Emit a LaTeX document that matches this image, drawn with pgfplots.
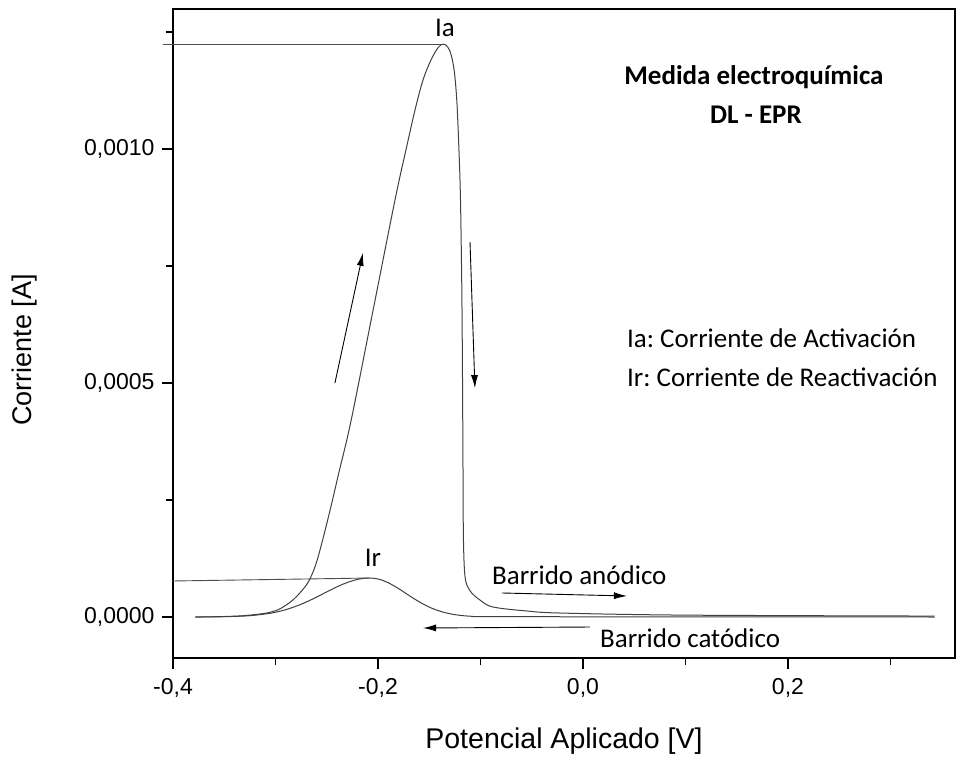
\documentclass[border=0pt]{standalone}
\usepackage{fontspec}
\setmainfont{Liberation Sans}
\newfontfamily\calfont{Carlito}
\usepackage{pgfplots}
\pgfplotsset{compat=1.18}
\usetikzlibrary{arrows.meta}
\begin{document}
\frenchspacing
\begin{tikzpicture}
\begin{axis}[
  scale only axis, width=782pt, height=649pt,
  xmin=-0.4, xmax=0.363, ymin=-0.0000876, ymax=0.001299,
  axis line style={line width=1.6pt},
  tick align=outside, tick pos=left,
  major tick length=11pt, minor tick length=7pt,
  tick style={black, line width=1.4pt},
  xtick={-0.4,-0.2,0,0.2}, xticklabels={{-0,4},{-0,2},{0,0},{0,2}},
  minor xtick={-0.3,-0.1,0.1,0.3},
  ytick={0,0.0005,0.001}, yticklabels={{0,0000},{0,0005},{0,0010}},
  minor ytick={0.00025,0.00075,0.00125},
  ticklabel style={font=\fontsize{23}{27}\selectfont},
  xticklabel style={yshift=-6pt},
  yticklabel style={xshift=-4pt},
  scaled ticks=false,
  xlabel={Potencial Aplicado [V]},
  xlabel style={font=\fontsize{28.5}{33}\selectfont, at={([yshift=-90pt]axis description cs:0.5,0)}, anchor=base},
  ylabel={Corriente [A]},
  ylabel style={font=\fontsize{27}{31}\selectfont, at={([xshift=-148pt]axis description cs:0,0.4746)}, anchor=center},
  clip=false,
]
% barrido anodico
\addplot[black!75, line width=1pt, smooth, tension=0.55] coordinates {
 (-0.378,0.0000000) (-0.350,0.0000010) (-0.330,0.0000030) (-0.310,0.0000080)
 (-0.298,0.0000150) (-0.290,0.0000250) (-0.283,0.0000363) (-0.276,0.0000520)
 (-0.268,0.0000748) (-0.261,0.0001100) (-0.254,0.0001645) (-0.246,0.000235)
 (-0.238,0.000310) (-0.2263,0.000419) (-0.205,0.000653) (-0.1834,0.000891)
 (-0.1727,0.000998) (-0.1639,0.001083) (-0.1561,0.001147) (-0.1483,0.001190)
 (-0.1415,0.001216) (-0.1366,0.001224) (-0.1320,0.001218)
 (-0.1285,0.001200) (-0.1255,0.001165) (-0.1230,0.001100) (-0.1210,0.000998)
 (-0.1195,0.000891) (-0.1182,0.000700) (-0.1175,0.000500) (-0.1170,0.000300)
 (-0.1166,0.000165) (-0.1150,0.000085) (-0.1102,0.0000560) (-0.1005,0.0000363)
 (-0.0878,0.0000214) (-0.0546,0.0000128) (-0.0224,0.0000085) (0.100,0.000004)
 (0.343,0.000002)
};
% barrido catodico
\addplot[black!75, line width=1pt, smooth, tension=0.55] coordinates {
 (0.343,0.000000) (0.000,0.0000005) (-0.0978,0.0000008) (-0.1078,0.0000014)
 (-0.1178,0.0000030) (-0.1278,0.0000061) (-0.1378,0.0000113) (-0.1478,0.0000191)
 (-0.1578,0.0000300) (-0.1678,0.0000433) (-0.1778,0.0000577) (-0.1878,0.0000707)
 (-0.1978,0.0000800) (-0.2078,0.0000833) (-0.2178,0.0000813) (-0.2278,0.0000754)
 (-0.2378,0.0000667) (-0.2478,0.0000561) (-0.2578,0.0000449) (-0.2678,0.0000342)
 (-0.2778,0.0000248) (-0.2878,0.0000171) (-0.2978,0.0000113) (-0.3078,0.0000071)
 (-0.3278,0.0000024) (-0.3578,0.0000003) (-0.3785,0.0000000)
};
% lineas de referencia
\addplot[black!70, line width=0.9pt] coordinates {(-0.41,0.001224) (-0.1366,0.001224)};
\addplot[black!70, line width=0.9pt] coordinates {(-0.401,0.0000769) (-0.2078,0.0000833)};
% flechas
\addplot[black, line width=0.9pt, -{Latex[length=13pt,width=7pt]}] coordinates {(-0.242,0.0005) (-0.2146,0.000778)};
\addplot[black, line width=0.9pt, -{Latex[length=13pt,width=7pt]}] coordinates {(-0.1102,0.000801) (-0.1054,0.000489)};
\addplot[black, line width=0.9pt, -{Latex[length=13pt,width=7pt]}] coordinates {(-0.079,0.0000513) (0.0429,0.0000449)};
\addplot[black, line width=0.9pt, -{Latex[length=13pt,width=7pt]}] coordinates {(0.0068,-0.0000214) (-0.156,-0.0000235)};
% textos
\node[font=\calfont\fontsize{27}{32}\selectfont] at (axis cs:-0.1346,0.0012585) {Ia};
\node[font=\calfont\fontsize{27}{32}\selectfont] at (axis cs:-0.2049,0.0001261) {Ir};
\node[font=\calfont\bfseries\fontsize{27}{32}\selectfont] at (axis cs:0.1668,0.0011538) {Medida electroquímica};
\node[font=\calfont\bfseries\fontsize{27}{32}\selectfont] at (axis cs:0.1688,0.0010726) {DL - EPR};
\node[font=\calfont\fontsize{27}{32}\selectfont, anchor=west, inner sep=0pt] at (axis cs:0.0429,0.0005962) {Ia: Corriente de Activación};
\node[font=\calfont\fontsize{27}{32}\selectfont, anchor=west, inner sep=0pt] at (axis cs:0.0429,0.0005128) {Ir: Corriente de Reactivación};
\node[font=\calfont\fontsize{27}{32}\selectfont, anchor=west, inner sep=0pt] at (axis cs:-0.0888,0.0000897) {Barrido anódico};
\node[font=\calfont\fontsize{27}{32}\selectfont, anchor=west, inner sep=0pt] at (axis cs:0.0166,-0.0000449) {Barrido catódico};
\path ([shift={(-173pt,-95pt)}]rel axis cs:0,0) rectangle ([shift={(5pt,9pt)}]rel axis cs:1,1);
\end{axis}
\end{tikzpicture}
\end{document}
